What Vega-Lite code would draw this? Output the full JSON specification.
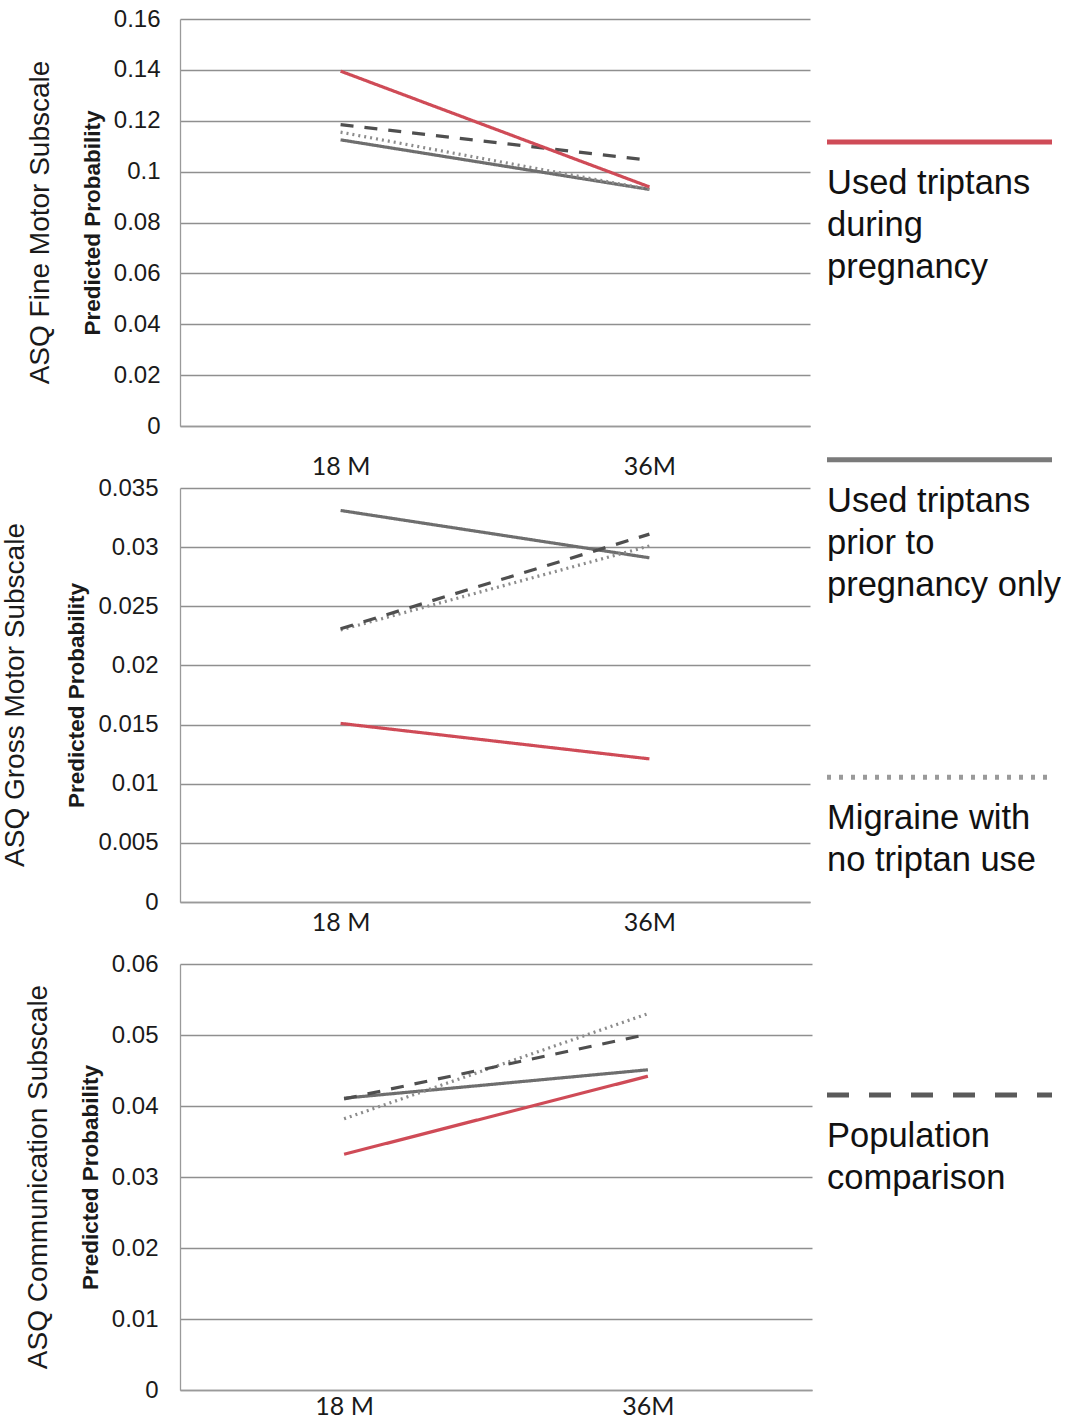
{
  "$schema": "https://vega.github.io/schema/vega-lite/v6.json",
  "background": "white",
  "padding": {"left": 1, "top": 7, "right": 0, "bottom": 0},
  "config": {
    "view": {"stroke": null},
    "font": "Liberation Sans",
    "axis": {"gridColor": "#8f8f8f", "gridWidth": 1.3, "domainColor": "#9a9a9a", "domainWidth": 1.3, "labelColor": "#1a1a1a", "titleColor": "#1a1a1a"},
    "line": {"strokeWidth": 3.2}
  },
  "datasets": {
    "asq": [
      {"measure": "Fine", "age": "18 M", "group": "Used triptans prior to pregnancy only", "p": 0.1125},
      {"measure": "Fine", "age": "36M", "group": "Used triptans prior to pregnancy only", "p": 0.093},
      {"measure": "Fine", "age": "18 M", "group": "Migraine with no triptan use", "p": 0.1155},
      {"measure": "Fine", "age": "36M", "group": "Migraine with no triptan use", "p": 0.093},
      {"measure": "Fine", "age": "18 M", "group": "Population comparison", "p": 0.1185},
      {"measure": "Fine", "age": "36M", "group": "Population comparison", "p": 0.1045},
      {"measure": "Fine", "age": "18 M", "group": "Used triptans during pregnancy", "p": 0.1395},
      {"measure": "Fine", "age": "36M", "group": "Used triptans during pregnancy", "p": 0.094},
      {"measure": "Gross", "age": "18 M", "group": "Used triptans prior to pregnancy only", "p": 0.0331},
      {"measure": "Gross", "age": "36M", "group": "Used triptans prior to pregnancy only", "p": 0.0291},
      {"measure": "Gross", "age": "18 M", "group": "Migraine with no triptan use", "p": 0.023},
      {"measure": "Gross", "age": "36M", "group": "Migraine with no triptan use", "p": 0.0301},
      {"measure": "Gross", "age": "18 M", "group": "Population comparison", "p": 0.0231},
      {"measure": "Gross", "age": "36M", "group": "Population comparison", "p": 0.0311},
      {"measure": "Gross", "age": "18 M", "group": "Used triptans during pregnancy", "p": 0.0151},
      {"measure": "Gross", "age": "36M", "group": "Used triptans during pregnancy", "p": 0.0121},
      {"measure": "Comm", "age": "18 M", "group": "Used triptans prior to pregnancy only", "p": 0.0411},
      {"measure": "Comm", "age": "36M", "group": "Used triptans prior to pregnancy only", "p": 0.0451},
      {"measure": "Comm", "age": "18 M", "group": "Migraine with no triptan use", "p": 0.0382},
      {"measure": "Comm", "age": "36M", "group": "Migraine with no triptan use", "p": 0.053},
      {"measure": "Comm", "age": "18 M", "group": "Population comparison", "p": 0.041},
      {"measure": "Comm", "age": "36M", "group": "Population comparison", "p": 0.0501},
      {"measure": "Comm", "age": "18 M", "group": "Used triptans during pregnancy", "p": 0.0332},
      {"measure": "Comm", "age": "36M", "group": "Used triptans during pregnancy", "p": 0.0442}
    ],
    "legend": [
      {"order": 1, "group": "Used triptans during pregnancy", "label": "Used triptans\nduring\npregnancy"},
      {"order": 2, "group": "Used triptans prior to pregnancy only", "label": "Used triptans\nprior to\npregnancy only"},
      {"order": 3, "group": "Migraine with no triptan use", "label": "Migraine with\nno triptan use"},
      {"order": 4, "group": "Population comparison", "label": "Population\ncomparison"}
    ]
  },
  "resolve": {"scale": {"strokeDash": "independent", "color": "independent", "y": "independent", "x": "independent"}},
  "spacing": 12,
  "hconcat": [
    {
      "spacing": 62,
      "bounds": "flush",
      "resolve": {"scale": {"y": "independent", "x": "independent"}},
      "vconcat": [
        {
          "width": 630, "height": 407,
          "data": {"name": "asq"},
          "transform": [{"filter": "datum.measure === 'Fine'"}],
          "title": {"text": "ASQ Fine Motor Subscale", "orient": "left", "anchor": "middle", "fontSize": 28, "fontWeight": "normal", "font": "Liberation Sans", "color": "#1a1a1a", "offset": 26},
          "mark": {"type": "line"},
          "encoding": {
            "x": {"field": "age", "type": "ordinal", "sort": ["18 M", "36M"], "scale": {"type": "point", "padding": 0.52},
                  "axis": {"title": null, "ticks": false, "labelAngle": 0, "labelFont": "Lato", "labelFontSize": 25, "labelPadding": 28, "grid": false}},
            "y": {"field": "p", "type": "quantitative", "scale": {"domain": [0, 0.16], "nice": false},
                  "axis": {"values": [0, 0.02, 0.04, 0.06, 0.08, 0.1, 0.12, 0.14, 0.16], "format": "~g", "ticks": false, "labelFontSize": 24, "labelPadding": 20,
                           "title": "Predicted Probability", "titleFontSize": 22.5, "titleFontWeight": "bold", "titlePadding": 9}},
            "color": {"field": "group", "type": "nominal", "legend": null,
                      "scale": {"domain": ["Used triptans during pregnancy", "Used triptans prior to pregnancy only", "Migraine with no triptan use", "Population comparison"], "range": ["#cf4b57", "#6e6e6e", "#8c8c8c", "#4f4f4f"]}},
            "strokeDash": {"field": "group", "type": "nominal", "legend": null,
                      "scale": {"domain": ["Used triptans during pregnancy", "Used triptans prior to pregnancy only", "Migraine with no triptan use", "Population comparison"], "range": [[1, 0], [1, 0], [2, 4], [13, 11]]}}
          }
        },
        {
          "width": 630, "height": 414,
          "data": {"name": "asq"},
          "transform": [{"filter": "datum.measure === 'Gross'"}],
          "title": {"text": "ASQ Gross Motor Subscale", "orient": "left", "anchor": "middle", "fontSize": 28, "fontWeight": "normal", "font": "Liberation Sans", "color": "#1a1a1a", "offset": 36},
          "mark": {"type": "line"},
          "encoding": {
            "x": {"field": "age", "type": "ordinal", "sort": ["18 M", "36M"], "scale": {"type": "point", "padding": 0.52},
                  "axis": {"title": null, "ticks": false, "labelAngle": 0, "labelFont": "Lato", "labelFontSize": 25, "labelPadding": 8, "grid": false}},
            "y": {"field": "p", "type": "quantitative", "scale": {"domain": [0, 0.035], "nice": false},
                  "axis": {"values": [0, 0.005, 0.01, 0.015, 0.02, 0.025, 0.03, 0.035], "format": "~g", "ticks": false, "labelFontSize": 24, "labelPadding": 22,
                           "title": "Predicted Probability", "titleFontSize": 22.5, "titleFontWeight": "bold", "titlePadding": 9}},
            "color": {"field": "group", "type": "nominal", "legend": null,
                      "scale": {"domain": ["Used triptans during pregnancy", "Used triptans prior to pregnancy only", "Migraine with no triptan use", "Population comparison"], "range": ["#cf4b57", "#6e6e6e", "#8c8c8c", "#4f4f4f"]}},
            "strokeDash": {"field": "group", "type": "nominal", "legend": null,
                      "scale": {"domain": ["Used triptans during pregnancy", "Used triptans prior to pregnancy only", "Migraine with no triptan use", "Population comparison"], "range": [[1, 0], [1, 0], [2, 4], [13, 11]]}}
          }
        },
        {
          "width": 632, "height": 426,
          "data": {"name": "asq"},
          "transform": [{"filter": "datum.measure === 'Comm'"}],
          "title": {"text": "ASQ Communication Subscale", "orient": "left", "anchor": "middle", "fontSize": 28, "fontWeight": "normal", "font": "Liberation Sans", "color": "#1a1a1a", "offset": 26},
          "mark": {"type": "line"},
          "encoding": {
            "x": {"field": "age", "type": "ordinal", "sort": ["18 M", "36M"], "scale": {"type": "point", "padding": 0.54},
                  "axis": {"title": null, "ticks": false, "labelAngle": 0, "labelFont": "Lato", "labelFontSize": 25, "labelPadding": 4, "grid": false}},
            "y": {"field": "p", "type": "quantitative", "scale": {"domain": [0, 0.06], "nice": false},
                  "axis": {"values": [0, 0.01, 0.02, 0.03, 0.04, 0.05, 0.06], "format": "~g", "ticks": false, "labelFontSize": 24, "labelPadding": 22,
                           "title": "Predicted Probability", "titleFontSize": 22.5, "titleFontWeight": "bold", "titlePadding": 9}},
            "color": {"field": "group", "type": "nominal", "legend": null,
                      "scale": {"domain": ["Used triptans during pregnancy", "Used triptans prior to pregnancy only", "Migraine with no triptan use", "Population comparison"], "range": ["#cf4b57", "#6e6e6e", "#8c8c8c", "#4f4f4f"]}},
            "strokeDash": {"field": "group", "type": "nominal", "legend": null,
                      "scale": {"domain": ["Used triptans during pregnancy", "Used triptans prior to pregnancy only", "Migraine with no triptan use", "Population comparison"], "range": [[1, 0], [1, 0], [2, 4], [13, 11]]}}
          }
        }
      ]
    },
    {
      "width": 225, "height": 1199,
      "data": {"name": "legend"},
      "layer": [
        {
          "mark": {"type": "rule", "strokeWidth": 5},
          "encoding": {
            "y": {"field": "order", "type": "ordinal", "scale": {"type": "point", "padding": 0.387}, "axis": null},
            "x": {"datum": 0, "type": "quantitative", "scale": {"domain": [0, 1]}, "axis": null},
            "x2": {"datum": 1},
            "color": {"field": "group", "type": "nominal", "legend": null,
                      "scale": {"domain": ["Used triptans during pregnancy", "Used triptans prior to pregnancy only", "Migraine with no triptan use", "Population comparison"], "range": ["#cf4b57", "#7a7a7a", "#9a9a9a", "#5a5a5a"]}},
            "strokeDash": {"field": "group", "type": "nominal", "legend": null,
                      "scale": {"domain": ["Used triptans during pregnancy", "Used triptans prior to pregnancy only", "Migraine with no triptan use", "Population comparison"], "range": [[1, 0], [1, 0], [4, 8], [22, 20]]}}
          }
        },
        {
          "mark": {"type": "text", "align": "left", "baseline": "top", "dy": 25, "fontSize": 34.5, "lineHeight": 42, "lineBreak": "\n", "font": "Liberation Sans", "color": "#111111"},
          "encoding": {
            "y": {"field": "order", "type": "ordinal"},
            "x": {"datum": 0, "type": "quantitative"},
            "text": {"field": "label"}
          }
        }
      ]
    }
  ]
}
